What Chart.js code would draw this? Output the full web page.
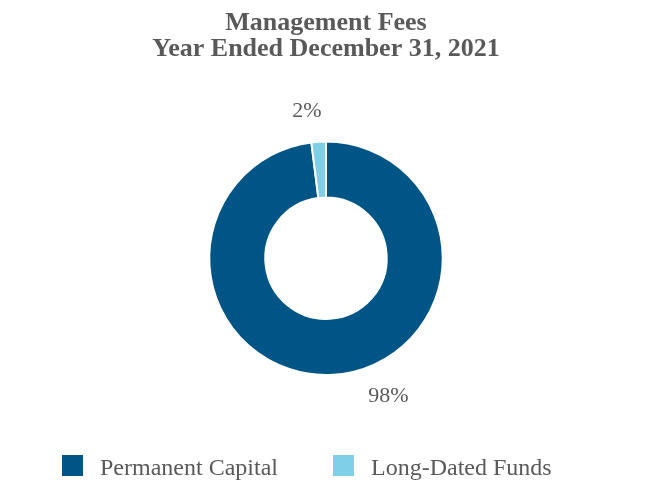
<!DOCTYPE html>
<html>
<head>
<meta charset="utf-8">
<script src="https://cdn.jsdelivr.net/npm/chart.js@4.4.1/dist/chart.umd.min.js"></script>
<style>
html,body{margin:0;padding:0;background:#fff}
#wrap{width:650px;height:500px}
</style>
</head>
<body>
<div id="wrap"><canvas id="feesChart" width="650" height="500"></canvas></div>
<script>
const categories = ["Permanent Capital", "Long-Dated Funds"]
const shares = [98, 2]
const sliceColors = ["#005587", "#7ECFE7"]

const textGray = "#595959"
const serif = "'Liberation Serif', 'Times New Roman', serif"

// percent labels sit just outside the ring
const pctLabels = {
  id: "pctLabels",
  afterDatasetsDraw(chart, args, opts) {
    const ctx = chart.ctx
    const meta = chart.getDatasetMeta(0)
    ctx.save()
    ctx.font = "22px " + serif
    ctx.fillStyle = textGray
    ctx.textAlign = "center"
    ctx.textBaseline = "middle"
    meta.data.forEach((arc, i) => {
      const p = arc.getProps(["x", "y", "startAngle", "endAngle", "outerRadius"], true)
      const mid = (p.startAngle + p.endAngle) / 2 + opts.shift[i] * Math.PI / 180
      const r = p.outerRadius + opts.gap
      ctx.fillText(shares[i] + "%", p.x + Math.cos(mid) * r, p.y + Math.sin(mid) * r + 2)
    })
    ctx.restore()
  }
}

const bottomLegend = {
  id: "bottomLegend",
  afterDraw(chart, args, opts) {
    const ctx = chart.ctx
    ctx.save()
    ctx.font = "24px " + serif
    ctx.textBaseline = "alphabetic"
    ctx.textAlign = "left"
    categories.forEach((c, i) => {
      const x = opts.x[i]
      ctx.fillStyle = sliceColors[i]
      ctx.fillRect(x, opts.y, 21, 21)
      ctx.fillStyle = textGray
      ctx.fillText(c, x + 38, opts.y + 20)
    })
    ctx.restore()
  }
}

new Chart(document.getElementById("feesChart"), {
  type: "doughnut",
  data: {
    labels: categories,
    datasets: [{
      data: shares,
      backgroundColor: sliceColors,
      borderColor: "#ffffff",
      borderWidth: 2
    }]
  },
  options: {
    responsive: false,
    animation: false,
    cutout: "52%",
    layout: { padding: { left: 2, right: 0, top: 0, bottom: 124 } },
    plugins: {
      legend: { display: false },
      tooltip: { enabled: false },
      title: {
        display: true,
        text: ["Management Fees", "Year Ended December 31, 2021"],
        color: textGray,
        font: { family: serif, size: 26, weight: "bold", lineHeight: 1.0 },
        padding: { top: 10.5, bottom: 78 }
      },
      pctLabels: { gap: 33, shift: [-21, -3.7] },
      bottomLegend: { x: [62, 333], y: 455 }
    }
  },
  plugins: [pctLabels, bottomLegend]
})
</script>
</body>
</html>
